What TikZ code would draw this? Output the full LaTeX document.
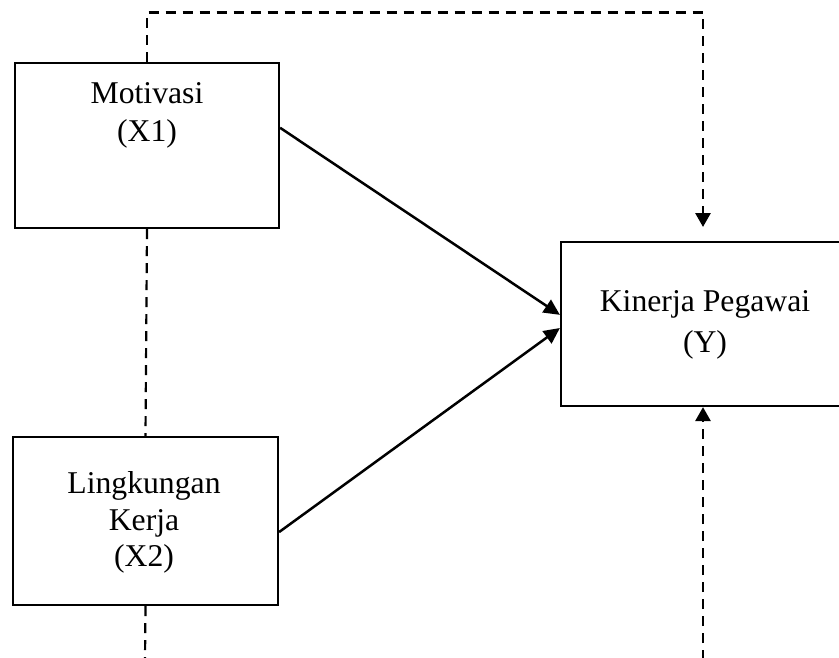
\documentclass[tikz,border=0pt]{standalone}
\usepackage{fontspec}
\setmainfont{Liberation Serif}
\usetikzlibrary{arrows.meta,calc}
\begin{document}
\begin{tikzpicture}[x=1pt,y=-1pt,
  box/.style={draw,line width=2.2pt,rectangle,inner sep=0pt},
  lbl/.style={anchor=base,inner sep=0pt,font=\fontsize{31.7}{38}\selectfont},
  solidarrow/.style={line width=2.5pt,-{Triangle[length=16pt,width=15pt]}},
  dashline/.style={line width=2.2pt,dash pattern=on 10pt off 7pt},
  dasharrow/.style={line width=2.8pt,dash pattern=on 10pt off 7pt,-{Triangle[length=14pt,width=15pt]}}]
\useasboundingbox (0,0) rectangle (839,657);
\begin{scope}
\clip (0,0) rectangle (839,657);
% boxes
\node[box,minimum width=264pt,minimum height=165pt] (M) at (147,145.5) {};
\node[box,minimum width=265pt,minimum height=168pt] (L) at (145.5,521) {};
\node[box,minimum width=284pt,minimum height=164pt] (K) at (703,324) {};
% texts
\node[lbl] (mt1) at (147,103.3) {Motivasi};
\node[lbl] (mt2) at (147,141.7) {(X1)};
\node[lbl] (lt1) at (144,493.3) {Lingkungan};
\node[lbl] (lt2) at (144,530) {Kerja};
\node[lbl] (lt3) at (144,566.7) {(X2)};
\node[lbl] (kt1) at (705,311.7) {Kinerja Pegawai};
\node[lbl] (kt2) at (705,352.7) {(Y)};
% coordinates
\coordinate (top) at (148,12.5);
\coordinate (ktip) at (703,227);
\coordinate (bot) at (703,660);
\coordinate (lbot) at (145,660);
% solid arrows
\draw[solidarrow] ($(M.north east)!0.394!(M.south east)$) -- ($(K.north west)!0.445!(K.south west)$);
\draw[solidarrow] ($(L.north east)!0.565!(L.south east)$) -- ($(K.north west)!0.524!(K.south west)$);
% dashed
\draw[dasharrow] (M.north) -- (M.north |- top) -| (ktip);
\draw[dashline] (M.south) -- (L.north);
\draw[dashline] (L.south) -- (lbot);
\draw[dasharrow] (bot) -- (K.south);
\end{scope}
\end{tikzpicture}
\end{document}
